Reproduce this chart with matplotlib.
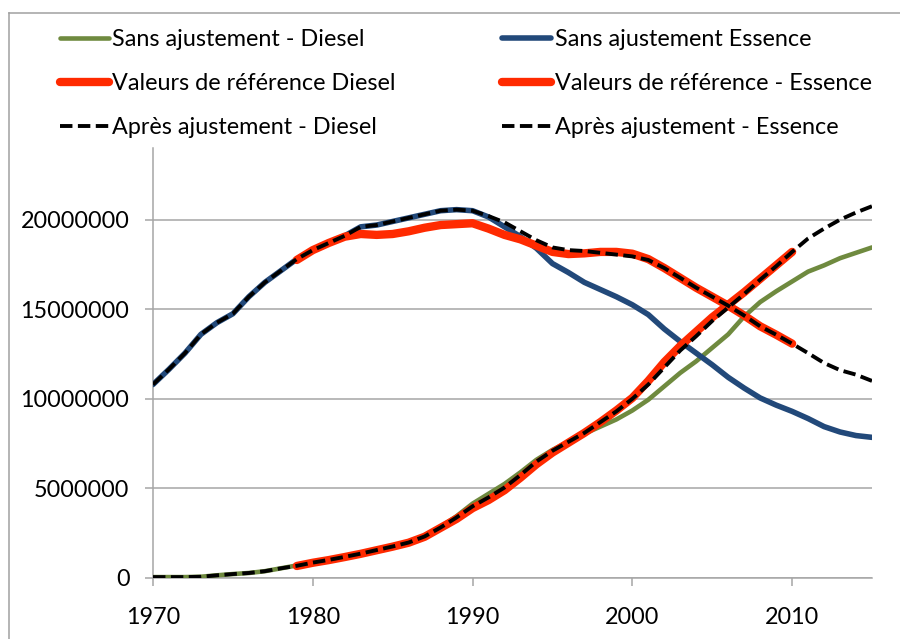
import matplotlib
matplotlib.use("Agg")
import matplotlib.pyplot as plt
from matplotlib.lines import Line2D
import numpy as np

# ---------------- data (values in vehicles) ----------------
years = list(range(1970, 2016))
years_ref = list(range(1979, 2011))

diesel_sans = [0.05, 0.05, 0.05, 0.07, 0.15, 0.22, 0.28, 0.38, 0.54, 0.70,
               0.87, 1.02, 1.20, 1.38, 1.57, 1.77, 2.00, 2.35, 2.85, 3.45,
               4.15, 4.70, 5.25, 5.90, 6.60, 7.15, 7.60, 8.05, 8.45, 8.85,
               9.35, 9.95, 10.70, 11.45, 12.10, 12.85, 13.60, 14.60, 15.40, 16.00,
               16.55, 17.10, 17.45, 17.85, 18.15, 18.45]

essence_sans = [10.80, 11.65, 12.55, 13.60, 14.25, 14.75, 15.70, 16.50, 17.15, 17.80,
                18.30, 18.70, 19.10, 19.60, 19.70, 19.90, 20.10, 20.30, 20.50, 20.56,
                20.50, 20.15, 19.60, 19.05, 18.40, 17.55, 17.05, 16.50, 16.10, 15.70,
                15.25, 14.70, 13.90, 13.20, 12.55, 11.90, 11.20, 10.60, 10.05, 9.65,
                9.30, 8.90, 8.45, 8.15, 7.95, 7.85]

diesel_ref = [0.67, 0.85, 1.00, 1.17, 1.35, 1.55, 1.75, 1.97, 2.30, 2.80,
              3.30, 3.90, 4.35, 4.90, 5.60, 6.35, 7.00, 7.55, 8.10, 8.70,
              9.35, 10.05, 11.00, 12.05, 12.95, 13.75, 14.55, 15.25, 15.95, 16.70,
              17.45, 18.20]

essence_ref = [17.75, 18.30, 18.70, 19.05, 19.20, 19.15, 19.20, 19.35, 19.55, 19.70,
               19.75, 19.80, 19.50, 19.15, 18.90, 18.55, 18.20, 18.08, 18.12, 18.20,
               18.20, 18.10, 17.80, 17.30, 16.75, 16.20, 15.70, 15.20, 14.65, 14.05,
               13.58, 13.08]

diesel_apres = [0.05, 0.05, 0.05, 0.07, 0.15, 0.22, 0.28, 0.38, 0.54, 0.68,
                0.86, 1.01, 1.18, 1.36, 1.56, 1.76, 1.98, 2.32, 2.82, 3.38,
                4.00, 4.50, 5.05, 5.75, 6.50, 7.10, 7.60, 8.10, 8.70, 9.30,
                10.00, 10.80, 11.75, 12.70, 13.50, 14.35, 15.10, 15.85, 16.65, 17.40,
                18.20, 18.95, 19.50, 20.00, 20.40, 20.75]

essence_apres = [10.80, 11.65, 12.55, 13.60, 14.25, 14.75, 15.70, 16.50, 17.15, 17.80,
                 18.30, 18.70, 19.10, 19.60, 19.70, 19.90, 20.10, 20.30, 20.50, 20.56,
                 20.50, 20.20, 19.85, 19.35, 18.85, 18.45, 18.30, 18.25, 18.15, 18.05,
                 17.95, 17.75, 17.30, 16.75, 16.20, 15.70, 15.20, 14.65, 14.05, 13.58,
                 13.08, 12.55, 12.00, 11.60, 11.35, 11.00]

labels = ["Sans ajustement - Diesel", "Sans ajustement Essence",
          "Valeurs de référence Diesel", "Valeurs de référence - Essence",
          "Après ajustement - Diesel", "Après ajustement - Essence"]

x_ticks = [1970, 1980, 1990, 2000, 2010]
y_ticks = [0, 5000000, 10000000, 15000000, 20000000]

M = 1e6
# ---------------- style ----------------
plt.rcParams['font.family'] = ['Lato', 'DejaVu Sans']
FS = 16.8
GREEN = '#6F8A3F'
BLUE = '#22497A'
RED = '#FF2A00'
GRID = '#A6A6A6'

W, H = 900, 639
fig = plt.figure(figsize=(W / 100, H / 100), dpi=100)
ax = fig.add_axes([153 / W, (H - 578) / H, (872 - 153) / W, (578 - 148) / H])

def arr(v):
    return np.array(v) * M

l_gd, = ax.plot(years, arr(diesel_sans), color=GREEN, lw=3.3, solid_capstyle='round',
                solid_joinstyle='round', zorder=3)
l_be, = ax.plot(years, arr(essence_sans), color=BLUE, lw=4.0, solid_capstyle='round',
                solid_joinstyle='round', zorder=3)
l_rd, = ax.plot(years_ref, arr(diesel_ref), color=RED, lw=6.0, solid_capstyle='round',
                solid_joinstyle='round', zorder=4)
l_re, = ax.plot(years_ref, arr(essence_ref), color=RED, lw=6.0, solid_capstyle='round',
                solid_joinstyle='round', zorder=4)
l_ad, = ax.plot(years, arr(diesel_apres), color='black', lw=2.8, dashes=(3.2, 1.4),
                dash_capstyle='butt', zorder=5)
l_ae, = ax.plot(years, arr(essence_apres), color='black', lw=2.8, dashes=(3.2, 1.4),
                dash_capstyle='butt', zorder=5)

ax.set_xlim(1970, 2015)
ax.set_ylim(0, 24000000)
ax.set_xticks(x_ticks)
ax.set_xticklabels([str(t) for t in x_ticks])
ax.set_yticks(y_ticks)
ax.set_yticklabels([str(t) for t in y_ticks])
ax.tick_params(axis='both', labelsize=FS, color=GRID, width=1.1, direction='out')
ax.tick_params(axis='y', length=5.5, pad=11.5)
ax.tick_params(axis='x', length=6, pad=15)
ax.grid(axis='y', color=GRID, lw=1.1)
ax.set_axisbelow(True)
for s in ['top', 'right']:
    ax.spines[s].set_visible(False)
for s in ['left', 'bottom']:
    ax.spines[s].set_color(GRID)
    ax.spines[s].set_linewidth(1.1)

handles = [l_gd, l_rd, l_ad, l_be, l_re, l_ae]
leg_labels = [labels[0], labels[2], labels[4], labels[1], labels[3], labels[5]]
leg = fig.legend(handles, leg_labels, ncol=2, loc='upper left',
                 bbox_to_anchor=(60 / W, 1 - 29 / H), frameon=False,
                 fontsize=FS, handlelength=2.1, handletextpad=0.15,
                 columnspacing=4.55, labelspacing=0.98, borderpad=0, borderaxespad=0)

# outer chart border
fig.add_artist(Line2D([9 / W, 9 / W], [0, 1 - 12.5 / H], transform=fig.transFigure,
                      color='#A0A0A0', lw=1.1))
fig.add_artist(Line2D([9 / W, 1], [1 - 12.5 / H, 1 - 12.5 / H], transform=fig.transFigure,
                      color='#A0A0A0', lw=1.1))

fig.savefig('out.png', dpi=100)
